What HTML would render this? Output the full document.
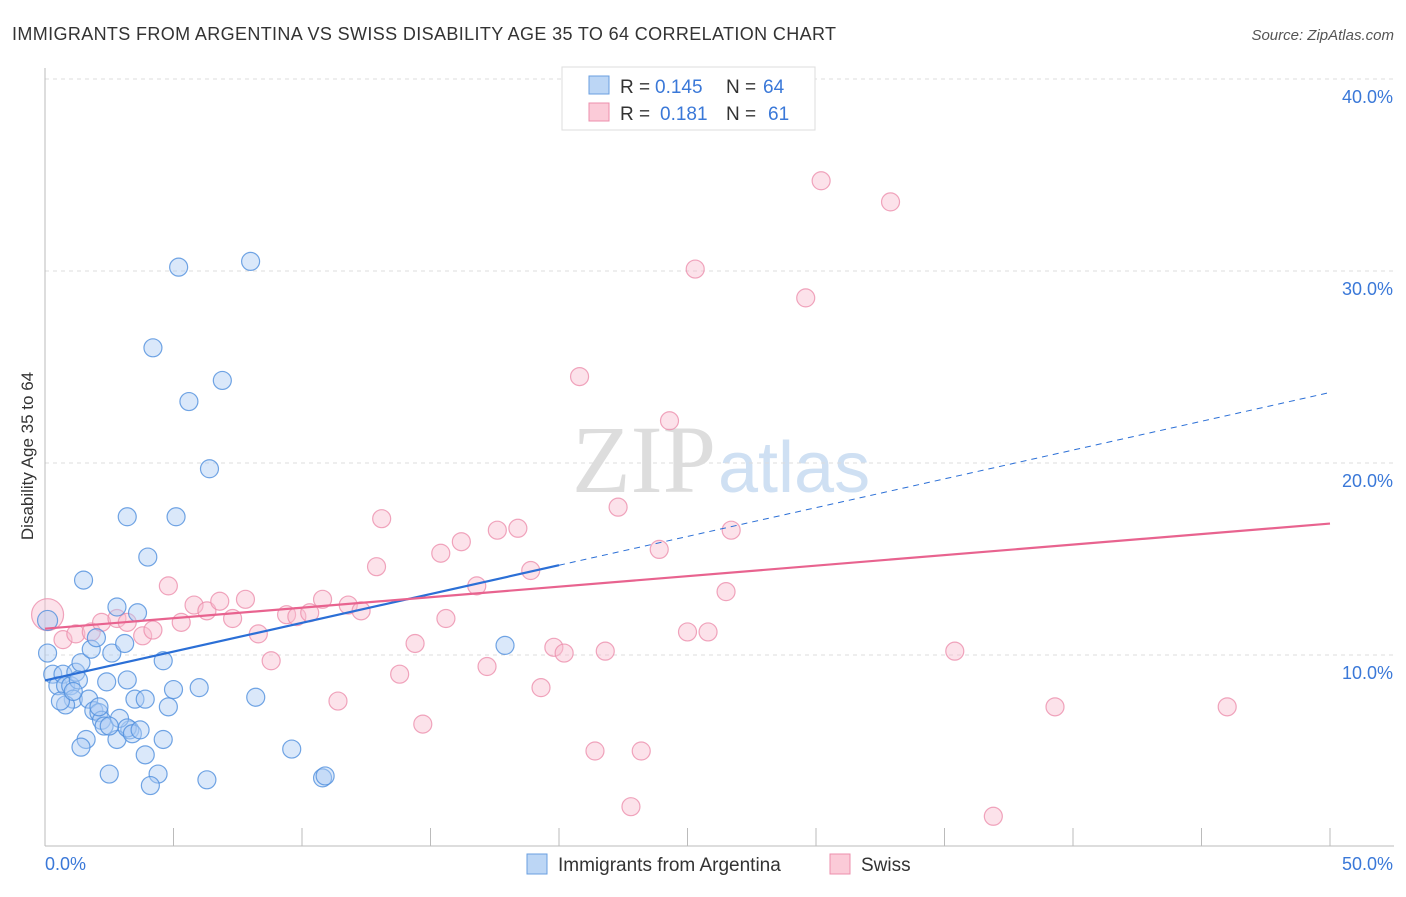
<!DOCTYPE html>
<html><head><meta charset="utf-8"><style>
body{margin:0;background:#fff;font-family:"Liberation Sans",sans-serif;}
</style></head><body>
<svg width="1406" height="892" xmlns="http://www.w3.org/2000/svg">
<text x="12" y="40" font-size="18" fill="#333" textLength="824">IMMIGRANTS FROM ARGENTINA VS SWISS DISABILITY AGE 35 TO 64 CORRELATION CHART</text>
<text x="1394" y="40" font-size="15" fill="#555" font-style="italic" text-anchor="end">Source: ZipAtlas.com</text>
<text x="716" y="492" font-size="96" fill="#ddd" text-anchor="end" font-family="Liberation Serif">ZIP</text>
<text x="718" y="492" font-size="72" fill="#cfe0f3">atlas</text>
<g id="grid"></g>
<line x1="45" y1="68" x2="45" y2="846" stroke="#bbb"/>
<line x1="45" y1="846" x2="1394" y2="846" stroke="#bbb"/>
<text transform="translate(33,456) rotate(-90)" font-size="17" fill="#333" text-anchor="middle">Disability Age 35 to 64</text>
<g id="ticks"></g>
<g id="pts"></g>
<g id="lines"></g>
<g>
<rect x="562" y="67" width="253" height="63" fill="#fff" stroke="#ddd"/>
<rect x="589" y="76" width="20" height="18" fill="#bcd6f5" stroke="#6a9fe0"/>
<rect x="589" y="103" width="20" height="18" fill="#fbcbd8" stroke="#ec8fac"/>
<text x="620" y="93" font-size="19" fill="#333">R =</text>
<text x="655" y="93" font-size="19" fill="#3a78d8">0.145</text>
<text x="726" y="93" font-size="19" fill="#333">N =</text>
<text x="763" y="93" font-size="19" fill="#3a78d8">64</text>
<text x="620" y="120" font-size="19" fill="#333">R =</text>
<text x="660" y="120" font-size="19" fill="#3a78d8">0.181</text>
<text x="726" y="120" font-size="19" fill="#333">N =</text>
<text x="768" y="120" font-size="19" fill="#3a78d8">61</text>
</g>
<g>
<rect x="527" y="854" width="20" height="20" fill="#bcd6f5" stroke="#6a9fe0"/>
<text x="558" y="871" font-size="19" fill="#333">Immigrants from Argentina</text>
<rect x="830" y="854" width="20" height="20" fill="#fbcbd8" stroke="#ec8fac"/>
<text x="861" y="871" font-size="19" fill="#333">Swiss</text>
</g>
</svg>
<script>
const yTicks=[10,20,30,40];
const xTickLabels=["0.0%","50.0%"];
const blueX=[0.1,0.1,0.3,0.5,0.7,0.8,1.0,1.2,1.1,0.8,1.4,1.3,1.5,1.8,2.0,1.7,1.9,2.1,2.2,2.3,1.6,1.4,2.4,2.6,2.8,3.1,3.2,3.2,3.5,3.6,3.9,4.0,3.9,4.4,4.1,4.6,4.8,4.6,5.0,3.3,2.8,2.9,3.2,3.4,3.7,2.5,4.2,5.2,5.6,5.1,6.4,6.9,8.0,6.0,6.3,8.2,9.6,10.8,10.9,17.9,2.1,2.5,0.6,1.1];
const blueY=[11.8,10.1,9.0,8.4,9.0,8.4,8.4,9.1,7.7,7.4,9.6,8.7,13.9,10.3,10.9,7.7,7.1,7.0,6.6,6.3,5.6,5.2,8.6,10.1,12.5,10.6,8.7,17.2,7.7,12.2,7.7,15.1,4.8,3.8,3.2,9.7,7.3,5.6,8.2,6.1,5.6,6.7,6.2,5.9,6.1,3.8,26.0,30.2,23.2,17.2,19.7,24.3,30.5,8.3,3.5,7.8,5.1,3.6,3.7,10.5,7.3,6.3,7.6,8.1];
const pinkX=[0.1,0.7,1.2,1.8,2.2,2.8,3.2,3.8,4.2,4.8,5.3,5.8,6.3,6.8,7.3,7.8,8.3,8.8,9.4,9.8,10.3,10.8,11.4,11.8,12.3,12.9,13.1,13.8,14.4,14.7,15.4,15.6,16.2,16.8,17.2,17.6,18.4,18.9,19.3,19.8,20.2,20.8,21.4,21.8,22.3,22.8,23.2,23.9,24.3,25.0,25.3,25.8,26.5,26.7,29.6,30.2,32.9,35.4,36.9,39.3,46.0];
const pinkY=[12.1,10.8,11.1,11.2,11.7,11.9,11.7,11.0,11.3,13.6,11.7,12.6,12.3,12.8,11.9,12.9,11.1,9.7,12.1,12.0,12.2,12.9,7.6,12.6,12.3,14.6,17.1,9.0,10.6,6.4,15.3,11.9,15.9,13.6,9.4,16.5,16.6,14.4,8.3,10.4,10.1,24.5,5.0,10.2,17.7,2.1,5.0,15.5,22.2,11.2,30.1,11.2,13.3,16.5,28.6,34.7,33.6,10.2,1.6,7.3,7.3];
const blueSolidEnd=20;
const NS="http://www.w3.org/2000/svg";
const X0=45,X1=1330,Y0=847,PPY=19.2;
function xs(v){return X0+(X1-X0)*v/50;}
function ys(v){return Y0-v*PPY;}
function mk(tag,attrs,parent){const e=document.createElementNS(NS,tag);for(const k in attrs)e.setAttribute(k,attrs[k]);document.getElementById(parent).appendChild(e);return e;}
const g0=mk('line',{x1:45,x2:1394,y1:79,y2:79,stroke:'#ddd','stroke-dasharray':'4,4'},'grid');


yTicks.forEach(t=>{
 const l=mk('line',{x1:45,x2:1394,y1:ys(t),y2:ys(t),stroke:'#ddd','stroke-dasharray':'4,4'},'grid');
 
 
 const tx=mk('text',{x:1393,y:ys(t)+24,'font-size':18,fill:'#3a78d8','text-anchor':'end'},'ticks');
 tx.textContent=t.toFixed(1)+'%';
 
 
});
for(let i=0;i<=10;i++){
 const l=mk('line',{x1:xs(i*5),x2:xs(i*5),y1:828,y2:846,stroke:'#bbb'},'ticks');
 
 
}
const t0=mk('text',{x:45,y:870,'font-size':18,fill:'#3a78d8'},'ticks');t0.textContent=xTickLabels[0];


const t1=mk('text',{x:1393,y:870,'font-size':18,fill:'#3a78d8','text-anchor':'end'},'ticks');t1.textContent=xTickLabels[1];


function pts(X,Y,fill,stroke,name){X.forEach((x,i)=>{
 const r=i===0?(name==='swiss-point'?16:10):9;
 const c=mk('circle',{cx:xs(x),cy:ys(Y[i]),r:r,fill:fill,'fill-opacity':0.45,stroke:stroke,'stroke-opacity':0.8,'stroke-width':1.2},'pts');
 
 
});}
pts(pinkX,pinkY,'#f9bfd0','#ec8fac','swiss-point');
pts(blueX,blueY,'#aecdf3','#4f8fdd','argentina-point');
function fit(X,Y){const n=X.length;let mx=0,my=0;for(let i=0;i<n;i++){mx+=X[i];my+=Y[i];}mx/=n;my/=n;let sxy=0,sxx=0;for(let i=0;i<n;i++){sxy+=(X[i]-mx)*(Y[i]-my);sxx+=(X[i]-mx)**2;}const b=sxy/sxx;return [my-b*mx,b];}
const [ba,bb]=fit(blueX,blueY),[pa,pb]=fit(pinkX,pinkY);
const bmax=blueSolidEnd;
let l=mk('line',{x1:xs(0),y1:ys(ba),x2:xs(bmax),y2:ys(ba+bb*bmax),stroke:'#2b6fd6','stroke-width':2.2},'lines');


l=mk('line',{x1:xs(bmax),y1:ys(ba+bb*bmax),x2:xs(50),y2:ys(ba+bb*50),stroke:'#2b6fd6','stroke-width':1,'stroke-dasharray':'6,5'},'lines');


l=mk('line',{x1:xs(0),y1:ys(pa),x2:xs(50),y2:ys(pa+pb*50),stroke:'#e8638f','stroke-width':2.2},'lines');


</script>
</body></html>
